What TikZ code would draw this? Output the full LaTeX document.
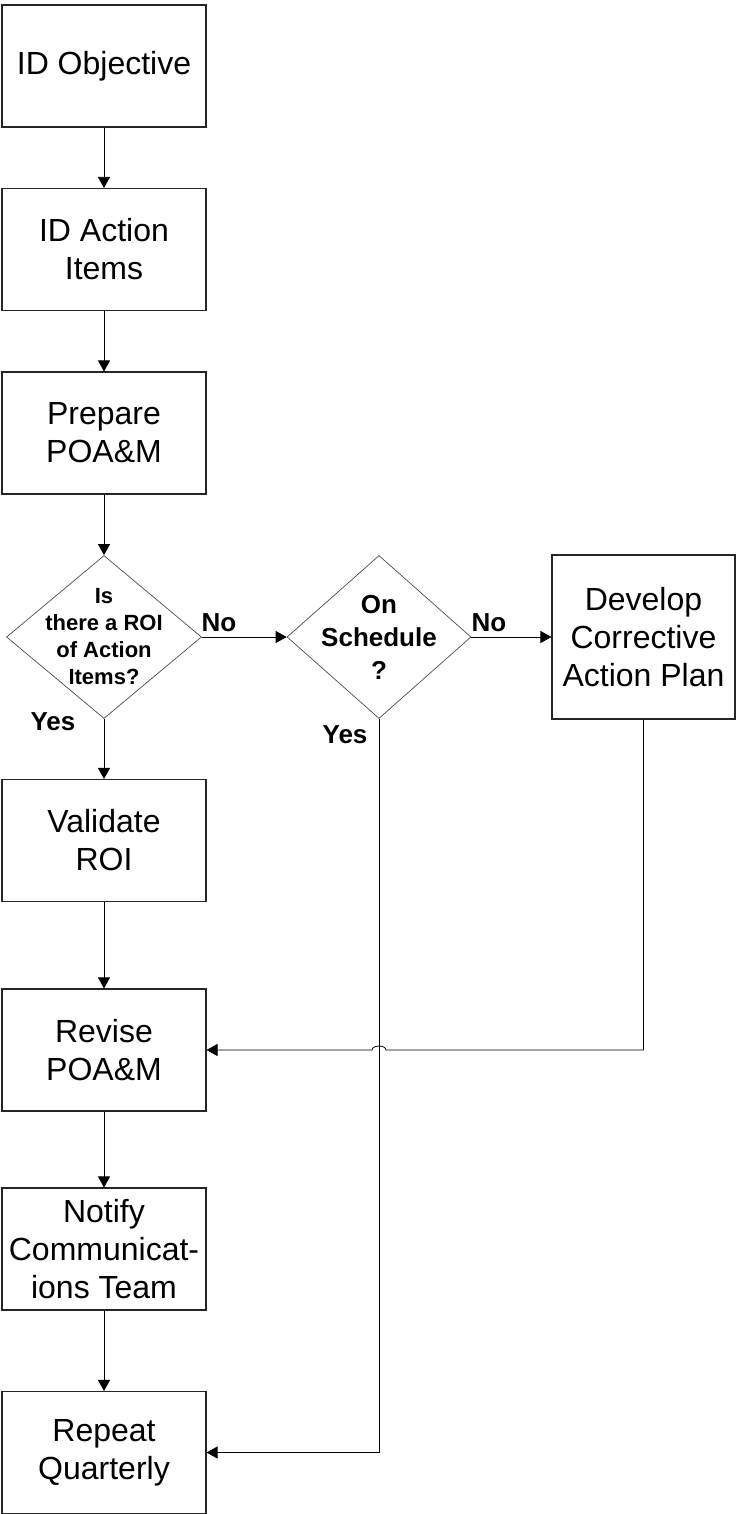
\documentclass[tikz,border=0pt]{standalone}
\usepackage{fontspec}
\setmainfont{Liberation Sans}
\usetikzlibrary{shapes.geometric,arrows.meta}
\begin{document}
\begin{tikzpicture}[x=1pt,y=1pt,>={Triangle[length=11pt,width=12pt]},line width=0.8pt,
        box/.style={draw=black!85,line width=1.1pt,minimum width=204pt,minimum height=122pt,inner sep=0pt,align=center,font=\fontsize{32}{38}\selectfont},
        dec/.style={draw=black!70,line width=0.7pt,diamond,inner sep=0pt},
        dtext/.style 2 args={inner sep=0pt,align=center,font=\bfseries\fontsize{#1}{#2}\selectfont},
        lbl/.style={inner sep=0pt,font=\bfseries\fontsize{26}{30}\selectfont}]
    \useasboundingbox(0,0)rectangle(736,-1514);
    \node[box](obj)at(104,-66){ID Objective};
    \node[box](items)at(104,-249.5){ID Action\\Items};
    \node[box](prep)at(104,-433){Prepare\\POA\&M};
    \node[dec,minimum width=195pt,minimum height=163pt](roi)at(104,-637){};
    \node[dtext={22}{27}](roiq)at(roi){Is\\there a ROI\\of Action\\Items?};
    \node[dec,minimum width=184pt,minimum height=163pt](sched)at(379,-637){};
    \node[dtext={26}{33}](schedq)at(sched){On\\Schedule\\?};
    \node[box,minimum width=183pt,minimum height=164pt](plan)at(643.5,-637){Develop\\Corrective\\Action Plan};
    \node[box](valid)at(104,-840.5){Validate\\ROI};
    \node[box](revise)at(104,-1050){Revise\\POA\&M};
    \node[box](notify)at(104,-1249){Notify\\Communicat-\\ions Team};
    \node[box](repeat)at(104,-1452.5){Repeat\\Quarterly};
    \node[lbl](no1)at(219,-623){No};
    \node[lbl](no2)at(489,-623){No};
    \node[lbl](yes1)at(53,-722){Yes};
    \node[lbl](yes2)at(345,-735){Yes};
    \draw[->](obj)--(items);
    \draw[->](items)--(prep);
    \draw[->](prep)--(roi);
    \draw[->](roi)--(valid);
    \draw[->](valid)--(revise);
    \draw[->](revise)--(notify);
    \draw[->](notify)--(repeat);
    \draw[->](roi)--(sched);
    \draw[->](sched)--(plan);
    \draw[->](sched.south)|-(repeat.east);
    \coordinate(hop)at(sched.south|-revise.east);
    \draw[->](plan.south)|-([xshift=7pt]hop)arc[start angle=0,end angle=180,x radius=7pt,y radius=4pt]--(revise.east);
\end{tikzpicture}
\end{document}
